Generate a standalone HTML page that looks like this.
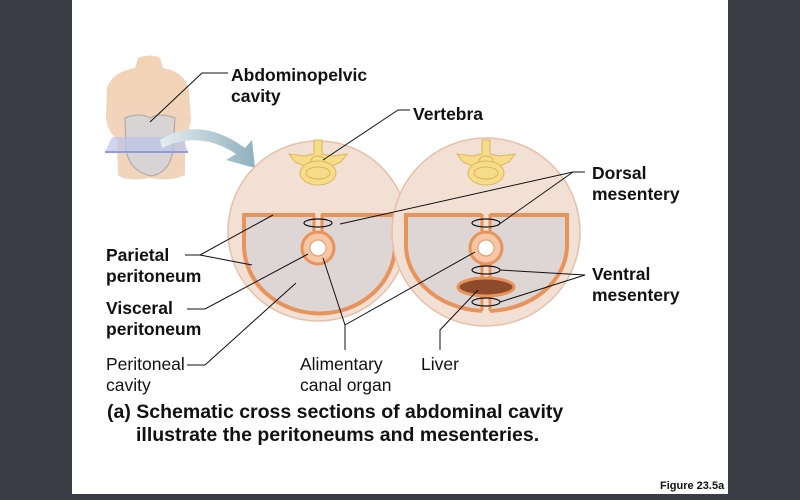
<!DOCTYPE html>
<html><head><style>
html,body{margin:0;padding:0;width:800px;height:500px;overflow:hidden;background:#3a3d45;}
svg{display:block}
text{font-family:"Liberation Sans",Arial,sans-serif;fill:#111;}
.b{font-weight:bold;font-size:17.5px}
.n{font-size:17.5px}
</style></head><body>
<svg width="800" height="500" viewBox="0 0 800 500">
<defs>
<linearGradient id="ar" x1="0" x2="1"><stop offset="0" stop-color="#e6eef2"/><stop offset="1" stop-color="#8fb0bd"/></linearGradient>
<linearGradient id="sk" x1="0" y1="0" x2="0" y2="1"><stop offset="0" stop-color="#f2d3b6"/><stop offset="1" stop-color="#f0d5bd"/></linearGradient>
</defs>
<rect x="72" y="0" width="656" height="494" fill="#fff"/>
<!-- torso -->
<path d="M138,58 Q150,53 160,58 L163,68 Q185,72 189,90 L191,120 Q188,135 185,140 L185,175 Q170,182 150,178 Q125,182 118,175 L117,140 Q107,130 106,118 L107,88 Q112,72 135,68 Z" fill="url(#sk)"/>
<path d="M125,118 Q140,112 150,118 Q160,112 175,118 L173,150 Q170,172 152,176 Q130,172 126,150 Z" fill="#d9d4d4" stroke="#a9a4a6" stroke-width="1"/>
<path d="M112,137 L183,137 L188,152 L105,152 Z" fill="#b9c4ea" opacity="0.7"/>
<line x1="105" y1="152" x2="188" y2="152" stroke="#8f9de0" stroke-width="2"/>
<path d="M160,140 Q200,115 245,148 L252,140 L255,168 L226,160 L236,154 Q200,130 162,148 Z" fill="url(#ar)"/>
<!-- left circle -->
<circle cx="318" cy="231" r="90" fill="#f3e0d4" stroke="#e7bfa6" stroke-width="1.5"/>
<path d="M244,215 H395 V245 A75,68 0 0 1 244,245 Z" fill="#ddd6d5" stroke="#e8935a" stroke-width="4"/>
<rect x="315" y="211" width="6" height="24" fill="#f3e0d4"/>
<line x1="314" y1="214" x2="314" y2="234" stroke="#e8935a" stroke-width="3"/>
<line x1="322" y1="214" x2="322" y2="234" stroke="#e8935a" stroke-width="3"/>
<circle cx="318" cy="248" r="16" fill="#f6c6a6" stroke="#e8935a" stroke-width="3"/>
<circle cx="318" cy="248" r="8" fill="#fff" stroke="#e8935a" stroke-width="1"/>
<ellipse cx="318" cy="223" rx="14" ry="4" fill="none" stroke="#111" stroke-width="1.2"/>
<!-- right circle -->
<circle cx="486" cy="232" r="94" fill="#f3e0d4" stroke="#e7bfa6" stroke-width="1.5"/>
<path d="M406,215 H567 V245 A80.5,66 0 0 1 406,245 Z" fill="#ddd6d5" stroke="#e8935a" stroke-width="4"/>
<rect x="482" y="211" width="8" height="104" fill="#f3e0d4"/>
<line x1="482" y1="214" x2="482" y2="311" stroke="#e8935a" stroke-width="3"/>
<line x1="490" y1="214" x2="490" y2="311" stroke="#e8935a" stroke-width="3"/>
<circle cx="486" cy="248" r="16" fill="#f6c6a6" stroke="#e8935a" stroke-width="3"/>
<circle cx="486" cy="248" r="8" fill="#fff" stroke="#e8935a" stroke-width="1"/>
<ellipse cx="486" cy="287" rx="28" ry="9" fill="#8e4b2c" stroke="#e8935a" stroke-width="3"/>
<ellipse cx="486" cy="223" rx="14" ry="4" fill="none" stroke="#111" stroke-width="1.2"/>
<ellipse cx="486" cy="270" rx="14" ry="4" fill="none" stroke="#111" stroke-width="1.2"/>
<ellipse cx="486" cy="302" rx="14" ry="4" fill="none" stroke="#111" stroke-width="1.2"/>
<!-- vertebrae -->
<g id="v" fill="#f7dc8a" stroke="#d9b85a" stroke-width="1">
<path d="M314,140 h8 v14 l10,2 l15,-2 l-6,8 l-10,4 l-6,4 h-14 l-6,-4 l-10,-4 l-6,-8 l15,2 l10,-2 z"/>
<ellipse cx="318" cy="161" rx="7" ry="5"/>
<ellipse cx="318" cy="173" rx="18" ry="12"/>
<ellipse cx="318" cy="173" rx="12" ry="6"/>
</g>
<use href="#v" x="168"/>
<!-- leaders -->
<g stroke="#111" stroke-width="1" fill="none">
<polyline points="228,73 202,73 150,122"/>
<polyline points="410,110 398,110 323,160"/>
<polyline points="585,172 573,172 340,224"/>
<line x1="573" y1="172" x2="498" y2="225"/>
<polyline points="585,275 500,270"/>
<line x1="585" y1="275" x2="500" y2="302"/>
<polyline points="185,255 200,255 273,215"/>
<line x1="200" y1="255" x2="252" y2="265"/>
<polyline points="187,309 205,309 308,254"/>
<polyline points="187,365 205,365 296,283"/>
<polyline points="345,350 345,325 323,258"/>
<line x1="345" y1="325" x2="475" y2="252"/>
<polyline points="440,350 440,330 478,290"/>
</g>
<!-- labels -->
<text class="b" x="231" y="81">Abdominopelvic</text>
<text class="b" x="231" y="102">cavity</text>
<text class="b" x="413" y="120">Vertebra</text>
<text class="b" x="592" y="179">Dorsal</text>
<text class="b" x="592" y="200">mesentery</text>
<text class="b" x="592" y="280">Ventral</text>
<text class="b" x="592" y="301">mesentery</text>
<text class="b" x="106" y="261">Parietal</text>
<text class="b" x="106" y="282">peritoneum</text>
<text class="b" x="106" y="314">Visceral</text>
<text class="b" x="106" y="335">peritoneum</text>
<text class="n" x="106" y="370">Peritoneal</text>
<text class="n" x="106" y="391">cavity</text>
<text class="n" x="300" y="370">Alimentary</text>
<text class="n" x="300" y="391">canal organ</text>
<text class="n" x="421" y="370">Liver</text>
<text class="b" x="107" y="418" style="font-size:19.5px">(a) Schematic cross sections of abdominal cavity</text>
<text class="b" x="136" y="441" style="font-size:19.5px">illustrate the peritoneums and mesenteries.</text>
<text x="660" y="489" style="font-size:11px;font-weight:bold">Figure 23.5a</text>
</svg>
</body></html>
